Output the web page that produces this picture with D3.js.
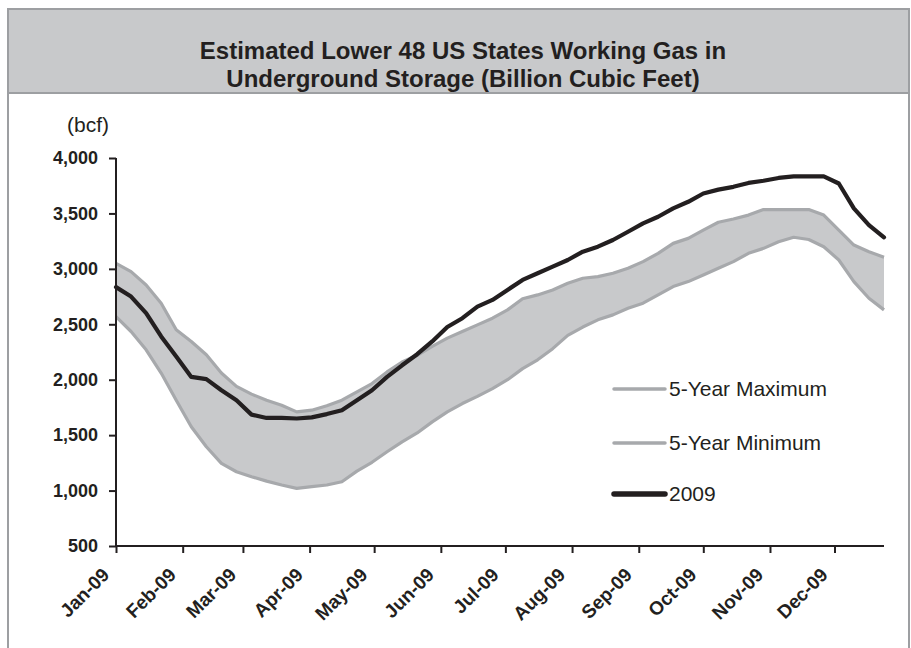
<!DOCTYPE html>
<html>
<head>
<meta charset="utf-8">
<script src="https://cdn.jsdelivr.net/npm/d3@7"></script>
<style>
    body { margin: 0; background: #ffffff; }
    svg text { font-family: "Liberation Sans", Arial, sans-serif; }
</style>
</head>
<body>
<div class="graph"></div>
<script>
// weekly dates (2009) and storage values, bcf
var weeks = [
    "2009-01-01","2009-01-08","2009-01-15","2009-01-22","2009-01-29",
    "2009-02-05","2009-02-12","2009-02-19","2009-02-26",
    "2009-03-05","2009-03-12","2009-03-19","2009-03-26",
    "2009-04-02","2009-04-09","2009-04-16","2009-04-23","2009-04-30",
    "2009-05-07","2009-05-14","2009-05-21","2009-05-28",
    "2009-06-04","2009-06-11","2009-06-18","2009-06-25",
    "2009-07-02","2009-07-09","2009-07-16","2009-07-23","2009-07-30",
    "2009-08-06","2009-08-13","2009-08-20","2009-08-27",
    "2009-09-03","2009-09-10","2009-09-17","2009-09-24",
    "2009-10-01","2009-10-08","2009-10-15","2009-10-22","2009-10-29",
    "2009-11-05","2009-11-12","2009-11-19","2009-11-26",
    "2009-12-03","2009-12-10","2009-12-17","2009-12-24"
];

var max5 = [
    3050, 2975, 2855, 2690, 2450, 2345, 2225, 2060, 1940, 1870, 1815, 1770, 1710,
    1725, 1765, 1815, 1890, 1965, 2070, 2160, 2220, 2300, 2375, 2435, 2495, 2555,
    2630, 2730, 2765, 2810, 2870, 2915, 2930, 2960, 3005, 3065, 3140, 3230, 3275,
    3350, 3420, 3450, 3485, 3535, 3535, 3535, 3535, 3485, 3350, 3215, 3155, 3105
];

var min5 = [
    2570, 2435, 2270, 2060, 1815, 1575, 1395, 1245, 1170, 1125, 1085, 1050, 1020,
    1035, 1050, 1080, 1175, 1255, 1350, 1440, 1520, 1620, 1710, 1785, 1850, 1920,
    2000, 2100, 2180, 2280, 2400, 2475, 2540, 2585, 2645, 2690, 2765, 2840, 2885,
    2945, 3005, 3065, 3140, 3185, 3245, 3285, 3265, 3200, 3080, 2885, 2735, 2630
];

var y2009 = [
    2835, 2750, 2600, 2390, 2210, 2025, 2005, 1905, 1815, 1685, 1655, 1655, 1650,
    1660, 1690, 1725, 1815, 1905, 2025, 2130, 2230, 2345, 2475, 2555, 2660, 2720,
    2810, 2900, 2960, 3020, 3080, 3155, 3200, 3260, 3335, 3410, 3470, 3545, 3605,
    3680, 3715, 3740, 3775, 3795, 3820, 3835, 3835, 3835, 3770, 3545, 3395, 3285
];

var tickMonths = ["2009-01-01","2009-02-01","2009-03-01","2009-04-01","2009-05-01","2009-06-01",
                  "2009-07-01","2009-08-01","2009-09-01","2009-10-01","2009-11-01","2009-12-01"];
var tickLabels = ["Jan-09","Feb-09","Mar-09","Apr-09","May-09","Jun-09",
                  "Jul-09","Aug-09","Sep-09","Oct-09","Nov-09","Dec-09"];
var yTicks = [500, 1000, 1500, 2000, 2500, 3000, 3500, 4000];

var legendItems = ["5-Year Maximum", "5-Year Minimum", "2009"];

var ink, band_fill, band_line, frame_color;

function graphConfig()
{
    /// CONFIG VARIABLES ///
    ink = "#231f20";
    band_fill = "#c8c9cb";
    band_line = "#a7a9ac";
    frame_color = "#9d9fa2";
    //// END OF CONFIG ////
}

function createGraph()
{
    var parse = d3.utcParse("%Y-%m-%d");
    var data = weeks.map(function (w, i) {
        return {date: parse(w), hi: max5[i], lo: min5[i], cur: y2009[i]};
    });

    var svgWidth = 911, svgHeight = 648;
    var svg = d3.select("div.graph").append("svg")
        .attr("width", svgWidth)
        .attr("height", svgHeight);

    // frame + title band
    svg.append("rect")
        .attr("x", 8).attr("y", 9)
        .attr("width", 901).attr("height", 84)
        .attr("fill", band_fill);
    svg.append("rect")
        .attr("x", 8).attr("y", 9)
        .attr("width", 901).attr("height", 650)
        .attr("fill", "none")
        .attr("stroke", frame_color)
        .attr("stroke-width", 2);
    svg.append("line")
        .attr("x1", 8).attr("x2", 909)
        .attr("y1", 93).attr("y2", 93)
        .attr("stroke", frame_color)
        .attr("stroke-width", 2);

    var title = svg.append("text")
        .attr("text-anchor", "middle")
        .attr("font-weight", "bold")
        .attr("font-size", 24)
        .attr("fill", ink);
    title.append("tspan").attr("x", 463).attr("y", 59)
        .text("Estimated Lower 48 US States Working Gas in");
    title.append("tspan").attr("x", 463).attr("y", 87)
        .text("Underground Storage (Billion Cubic Feet)");

    var x = d3.scaleUtc()
        .domain([parse(weeks[0]), parse(weeks[weeks.length - 1])])
        .range([116, 884]);
    var y = d3.scaleLinear()
        .domain([500, 4000])
        .range([546, 158]);

    var area = d3.area()
        .x(function (d) { return x(d.date); })
        .y0(function (d) { return y(d.lo); })
        .y1(function (d) { return y(d.hi); });

    svg.append("path")
        .datum(data)
        .attr("fill", band_fill)
        .attr("d", area);

    function lineOf(key) {
        return d3.line()
            .x(function (d) { return x(d.date); })
            .y(function (d) { return y(d[key]); });
    }

    ["hi", "lo"].forEach(function (k) {
        svg.append("path")
            .datum(data)
            .attr("fill", "none")
            .attr("stroke", band_line)
            .attr("stroke-width", 3.2)
            .attr("stroke-linejoin", "round")
            .attr("d", lineOf(k));
    });

    svg.append("path")
        .datum(data)
        .attr("fill", "none")
        .attr("stroke", ink)
        .attr("stroke-width", 4.2)
        .attr("stroke-linejoin", "round")
        .attr("stroke-linecap", "round")
        .attr("d", lineOf("cur"));

    // y axis
    var yAxis = svg.append("g")
        .attr("transform", "translate(116,0)")
        .call(d3.axisLeft(y).tickValues(yTicks).tickFormat(d3.format(",")).tickSize(7).tickPadding(11));
    yAxis.selectAll("path, line").attr("stroke", ink).attr("stroke-width", 2);
    yAxis.selectAll("text")
        .attr("font-family", "Liberation Sans, Arial, sans-serif")
        .attr("font-size", 18)
        .attr("font-weight", "bold")
        .attr("fill", ink);
    yAxis.select(".domain").attr("d", "M0," + y(500) + "V" + y(4000));

    svg.append("text")
        .attr("x", 67).attr("y", 132)
        .attr("font-size", 21)
        .attr("fill", ink)
        .text("(bcf)");

    // x axis
    var xAxis = svg.append("g")
        .attr("transform", "translate(0,546)")
        .call(d3.axisBottom(x)
            .tickValues(tickMonths.map(parse))
            .tickFormat(function (d, i) { return tickLabels[i]; })
            .tickSize(7));
    xAxis.selectAll("path, line").attr("stroke", ink).attr("stroke-width", 2);
    xAxis.select(".domain").attr("d", "M116,0H884");
    xAxis.selectAll("text")
        .attr("font-family", "Liberation Sans, Arial, sans-serif")
        .attr("font-size", 19)
        .attr("font-weight", "bold")
        .attr("fill", ink)
        .attr("text-anchor", "end")
        .attr("y", 0).attr("dy", 0)
        .attr("transform", "translate(-6,30) rotate(-45)");

    // legend
    var legY = [389, 443, 494];
    var legColor = [band_line, band_line, ink];
    var legWidth = [3.5, 3.5, 5.5];
    legendItems.forEach(function (name, i) {
        svg.append("line")
            .attr("x1", 614).attr("x2", 665)
            .attr("y1", legY[i]).attr("y2", legY[i])
            .attr("stroke", legColor[i])
            .attr("stroke-width", legWidth[i])
            .attr("stroke-linecap", "round");
        svg.append("text")
            .attr("x", 669).attr("y", legY[i] + 7)
            .attr("font-size", 21)
            .attr("fill", ink)
            .text(name);
    });
}

graphConfig();
createGraph();
</script>
</body>
</html>
